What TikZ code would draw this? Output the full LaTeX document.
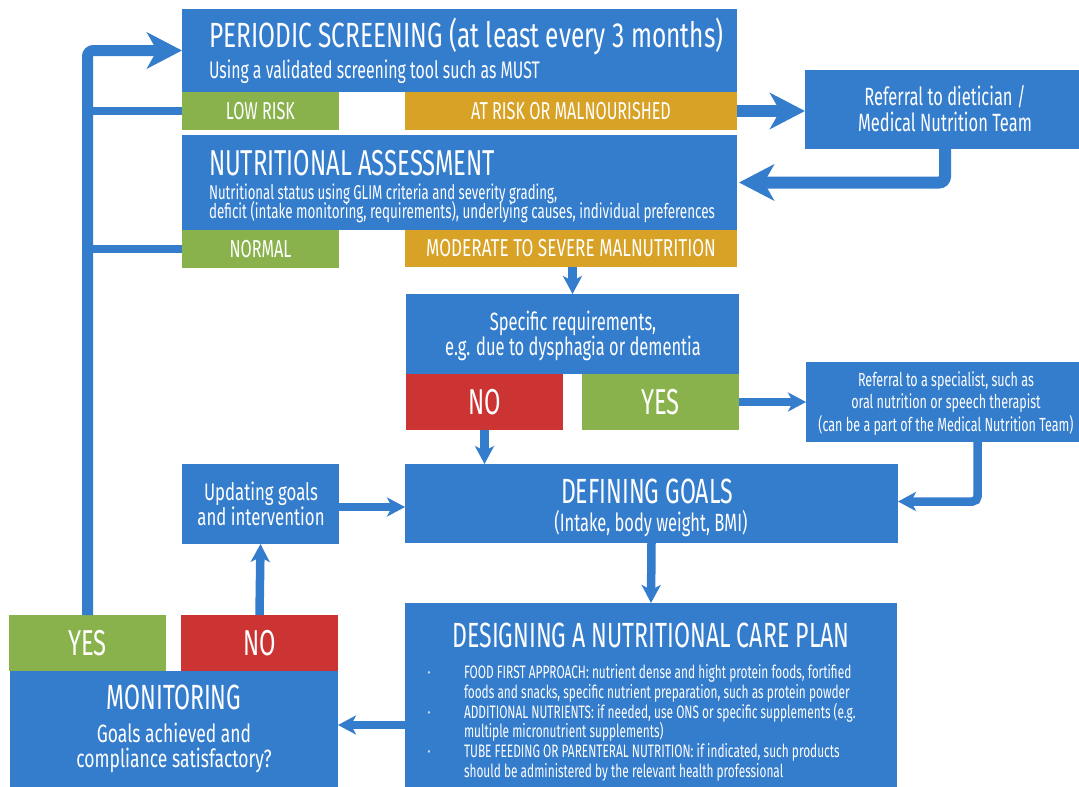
\documentclass[tikz,border=0pt]{standalone}
\usepackage{fontspec}
\setmainfont{Fira Sans}[FakeStretch=0.66]
\newfontfamily\widefam{Fira Sans}[FakeStretch=0.70]
\usetikzlibrary{arrows.meta}
\definecolor{cblue}{RGB}{52,124,204}
\definecolor{cgreen}{RGB}{137,178,76}
\definecolor{corange}{RGB}{216,162,38}
\definecolor{cred}{RGB}{204,51,51}
\newcommand\fsz[1]{\fontsize{#1}{#1}\selectfont}
\tikzset{
 blk/.style={fill=cblue, draw=none, inner sep=0pt, outer sep=0pt, anchor=north west, text=white},
 grn/.style={blk, fill=cgreen},
 org/.style={blk, fill=corange},
 rd/.style={blk, fill=cred},
 t/.style={text=white, inner sep=0pt, outer sep=0pt},
 bigarr/.style={draw=cblue, line width=12pt, -{Stealth[length=35pt, width=36pt, inset=10pt]}},
 smarr/.style={draw=cblue, line width=8.5pt, -{Stealth[length=18pt, width=19pt, inset=5pt]}},
 conn/.style={draw=cblue, line width=8pt},
 lbl/.style={font=\fsz{24.5}},
 yn/.style={font=\fsz{36}},
}
\begin{document}
\begin{tikzpicture}[x=1pt, y=-1pt]
\useasboundingbox[fill=white] (0,0) rectangle (1079,787);
% boxes
\node[blk, minimum width=555, minimum height=83] (ps) at (182,9) {};
\node[grn, lbl, minimum width=157, minimum height=38] (low) at (182,92) {LOW RISK};
\node[org, lbl, minimum width=332, minimum height=38] (risk) at (405,92) {AT RISK OR MALNOURISHED};
\node[blk, minimum width=555, minimum height=95] (na) at (182,135) {};
\node[grn, lbl, minimum width=157, minimum height=38] (nor) at (182,230) {NORMAL};
\node[org, lbl, minimum width=332, minimum height=37] (mod) at (405,230) {\widefam MODERATE TO SEVERE MALNUTRITION};
\node[blk, minimum width=274, minimum height=79] (ref) at (805,70) {};
\node[blk, minimum width=333, minimum height=80] (req) at (406,294) {};
\node[rd, yn, minimum width=157, minimum height=56] (no1) at (406,374) {NO};
\node[grn, yn, minimum width=157, minimum height=56] (yes1) at (582,374) {YES};
\node[blk, minimum width=273, minimum height=80] (spc) at (806,362) {};
\node[blk, minimum width=493, minimum height=79] (def) at (405,464) {};
\node[blk, minimum width=157, minimum height=80] (upd) at (182,464) {};
\node[blk, minimum width=492, minimum height=184] (des) at (405,603) {};
\node[grn, yn, minimum width=157, minimum height=56] (ym) at (9,615) {YES};
\node[rd, yn, minimum width=157, minimum height=56] (nm) at (181,615) {NO};
\node[blk, minimum width=328, minimum height=116] (mon) at (10,671) {};
% texts
\node[t, anchor=base west, font=\widefam\fsz{35}] (pst) at (209,47) {PERIODIC SCREENING (at least every 3 months)};
\node[t, anchor=base west, font=\fsz{24}] (pss) at (209,78) {Using a validated screening tool such as MUST};
\node[t, anchor=base west, font=\fsz{36}] (nat) at (209,175) {NUTRITIONAL ASSESSMENT};
\node[t, anchor=base west, font=\fsz{20}] (na1) at (209,199) {Nutritional status using GLIM criteria and severity grading,};
\node[t, anchor=base west, font=\fsz{20.3}] (na2) at (209,218) {deficit (intake monitoring, requirements), underlying causes, individual preferences};
\node[t, anchor=base, font=\fsz{25}] (ref1) at (945,105) {Referral to dietician /};
\node[t, anchor=base, font=\fsz{25}] (ref2) at (945,131) {Medical Nutrition Team};
\node[t, anchor=base, font=\fsz{25}] (req1) at (573,330) {Specific requirements,};
\node[t, anchor=base, font=\fsz{25}] (req2) at (573,355) {e.g. due to dysphagia or dementia};
\node[t, anchor=base, font=\fsz{19}] (spc1) at (946,386) {Referral to a specialist, such as};
\node[t, anchor=base, font=\fsz{19}] (spc2) at (946,408) {oral nutrition or speech therapist};
\node[t, anchor=base, font=\fsz{19}] (spc3) at (946,431) {(can be a part of the Medical Nutrition Team)};
\node[t, anchor=base, font=\fsz{35}] (deft) at (647,503) {DEFINING GOALS};
\node[t, anchor=base, font=\fsz{25}] (defs) at (651,531) {(Intake, body weight, BMI)};
\node[t, anchor=base, font=\widefam\fsz{24}] (upd1) at (261,500) {Updating goals};
\node[t, anchor=base, font=\widefam\fsz{24}] (upd2) at (261,525) {and intervention};
\node[t, anchor=base, font=\fsz{35}] (dest) at (651,647) {DESIGNING A NUTRITIONAL CARE PLAN};
\node[t, anchor=base, font=\fsz{18}] (b1) at (429,678) {·};
\node[t, anchor=base, font=\fsz{18}] (b2) at (429,718) {·};
\node[t, anchor=base, font=\fsz{18}] (b3) at (429,757) {·};
\node[t, anchor=base west, font=\fsz{18}] (d1) at (464,678) {FOOD FIRST APPROACH: nutrient dense and hight protein foods, fortified};
\node[t, anchor=base west, font=\fsz{18}] (d2) at (464,698) {foods and snacks, specific nutrient preparation, such as protein powder};
\node[t, anchor=base west, font=\fsz{18}] (d3) at (464,718) {ADDITIONAL NUTRIENTS: if needed, use ONS or specific supplements (e.g.};
\node[t, anchor=base west, font=\fsz{18}] (d4) at (464,737) {multiple micronutrient supplements)};
\node[t, anchor=base west, font=\fsz{18}] (d5) at (464,757) {TUBE FEEDING OR PARENTERAL NUTRITION: if indicated, such products};
\node[t, anchor=base west, font=\fsz{18}] (d6) at (464,777) {should be administered by the relevant health professional};
\node[t, anchor=base, font=\fsz{35}] (mont) at (174,709) {MONITORING};
\node[t, anchor=base, font=\widefam\fsz{25}] (mon1) at (174,742) {Goals achieved and};
\node[t, anchor=base, font=\widefam\fsz{25}] (mon2) at (174,767) {compliance satisfactory?};
% connectors
\draw[bigarr, line width=11pt, rounded corners=6pt] (ym.north) |- (ps.west);
\draw[conn] (low.west) -- (low.west -| ym.north);
\draw[conn] (nor.west) -- (nor.west -| ym.north);
\draw[bigarr] (risk.east) -- (risk.east -| ref.west);
\draw[bigarr, rounded corners=6pt] ([xshift=3pt]ref.south) |- ([xshift=2pt]na.east);
\draw[smarr] (mod.south -| req.north) -- (req.north);
\draw[smarr] (no1.south) -- (no1.south |- def.north);
\draw[smarr] (yes1.east) -- (yes1.east -| spc.west);
\draw[smarr, rounded corners=5pt] ([xshift=35pt]spc.south) |- ([yshift=2pt]def.east);
\draw[smarr] ([yshift=-3pt]upd.east) -- ([yshift=-3pt]upd.east -| def.west);
\draw[smarr] (nm.north) -- (upd.south);
\draw[smarr] (def.south) -- (des.north);
\draw[smarr] ([yshift=-30pt]des.west) -- ([yshift=-30pt]des.west -| mon.east);
\end{tikzpicture}
\end{document}
